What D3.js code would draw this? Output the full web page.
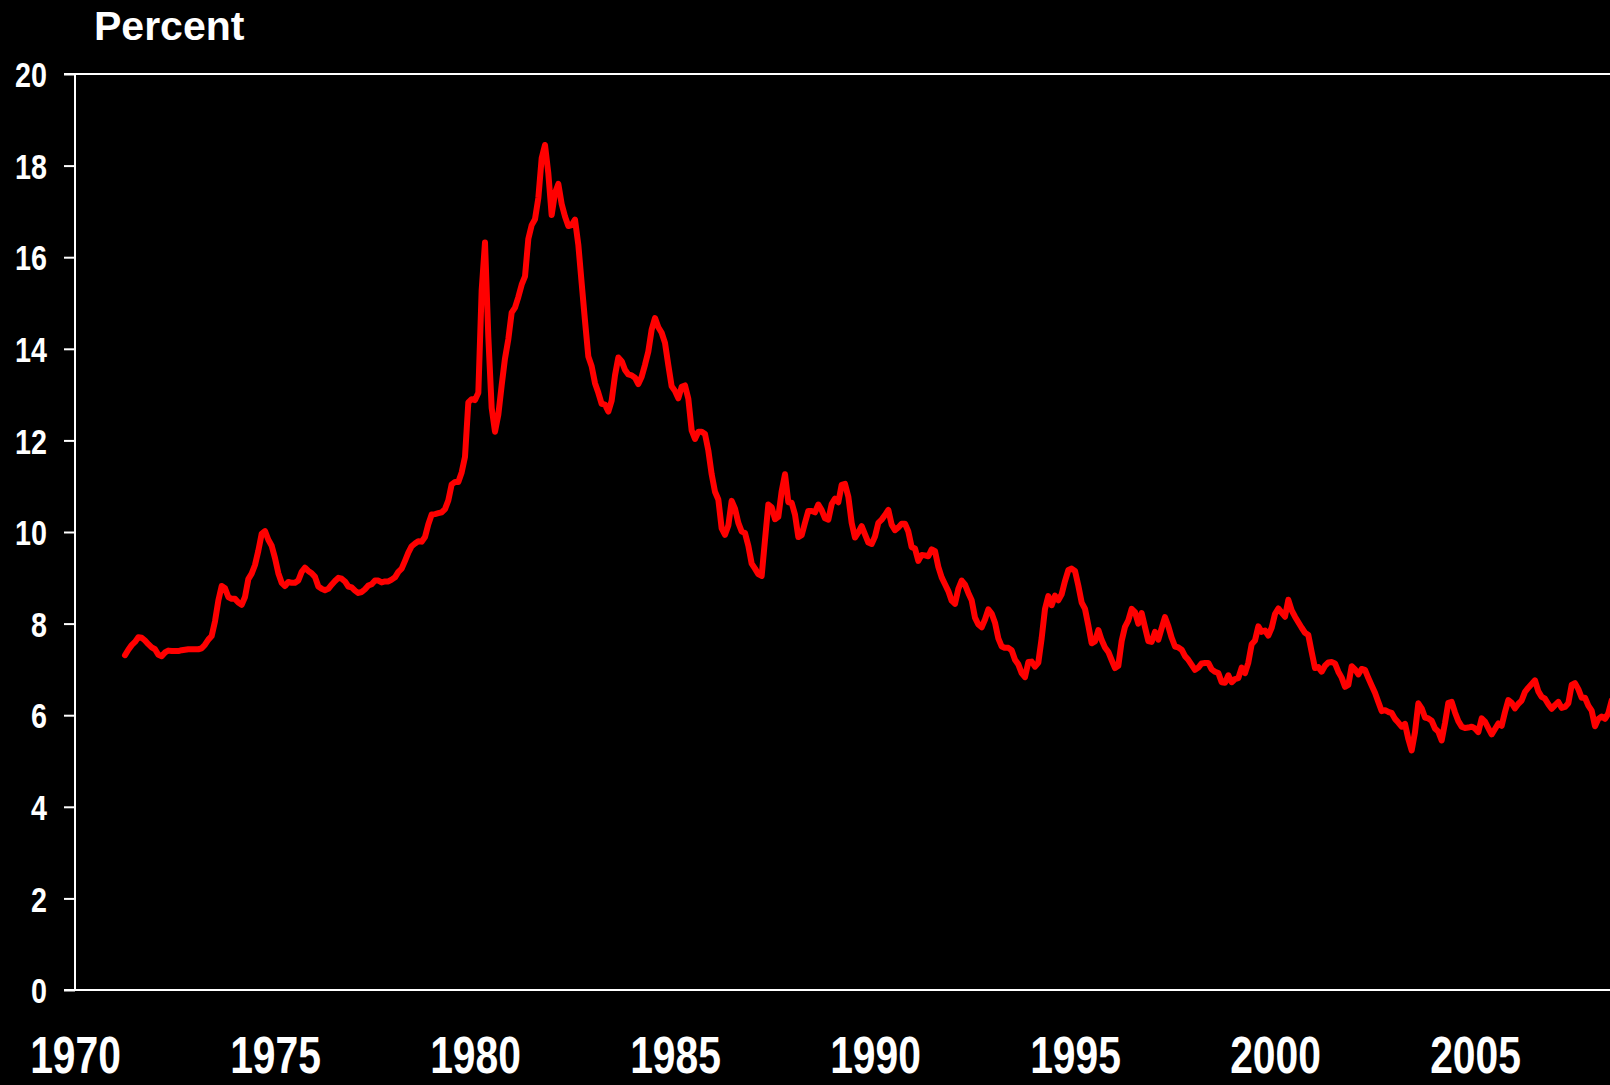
<!DOCTYPE html>
<html>
<head>
<meta charset="utf-8">
<script src="https://cdn.jsdelivr.net/npm/d3@7"></script>
<style>
  html, body { margin: 0; padding: 0; background: #000; }
  svg { display: block; }
</style>
</head>
<body>
<svg id="chart" width="1610" height="1085"></svg>
<script>
// Monthly rates (percent), starting April 1971
const startYear = 1971;
const startMonth = 4;
const rates = [
  // 1971 Apr-Dec
  7.31, 7.43, 7.53, 7.60, 7.70, 7.69, 7.63, 7.55, 7.48,
  // 1972
  7.44, 7.32, 7.29, 7.37, 7.41, 7.40, 7.40, 7.40, 7.42, 7.43, 7.44, 7.44,
  // 1973
  7.44, 7.44, 7.46, 7.54, 7.65, 7.73, 8.05, 8.50, 8.82, 8.77, 8.58, 8.54,
  // 1974
  8.54, 8.46, 8.41, 8.58, 8.97, 9.09, 9.28, 9.59, 9.96, 10.02, 9.83, 9.70,
  // 1975
  9.43, 9.10, 8.89, 8.82, 8.91, 8.89, 8.89, 8.94, 9.13, 9.22, 9.15, 9.10,
  // 1976
  9.02, 8.81, 8.76, 8.73, 8.76, 8.85, 8.93, 9.00, 8.98, 8.92, 8.81, 8.79,
  // 1977
  8.72, 8.67, 8.69, 8.75, 8.83, 8.86, 8.94, 8.94, 8.90, 8.92, 8.92, 8.96,
  // 1978
  9.01, 9.13, 9.20, 9.37, 9.55, 9.69, 9.75, 9.80, 9.79, 9.89, 10.17, 10.38,
  // 1979
  10.39, 10.41, 10.43, 10.50, 10.69, 11.04, 11.09, 11.09, 11.30, 11.64, 12.83, 12.90,
  // 1980
  12.88, 13.04, 15.28, 16.32, 14.26, 12.71, 12.19, 12.56, 13.20, 13.79, 14.21, 14.79,
  // 1981
  14.90, 15.13, 15.40, 15.58, 16.40, 16.70, 16.83, 17.29, 18.16, 18.45, 17.83, 16.92,
  // 1982
  17.40, 17.60, 17.16, 16.89, 16.68, 16.70, 16.82, 16.27, 15.43, 14.61, 13.83, 13.62,
  // 1983
  13.25, 13.04, 12.80, 12.78, 12.63, 12.87, 13.42, 13.81, 13.73, 13.54, 13.44, 13.42,
  // 1984
  13.37, 13.23, 13.39, 13.65, 13.94, 14.42, 14.67, 14.47, 14.35, 14.13, 13.64, 13.18,
  // 1985
  13.08, 12.92, 13.17, 13.20, 12.91, 12.22, 12.03, 12.19, 12.19, 12.14, 11.78, 11.26,
  // 1986
  10.88, 10.71, 10.08, 9.94, 10.14, 10.68, 10.51, 10.20, 10.01, 9.98, 9.70, 9.31,
  // 1987
  9.20, 9.08, 9.04, 9.83, 10.60, 10.54, 10.28, 10.33, 10.89, 11.26, 10.65, 10.64,
  // 1988
  10.38, 9.89, 9.93, 10.20, 10.46, 10.46, 10.43, 10.60, 10.48, 10.30, 10.27, 10.61,
  // 1989
  10.73, 10.65, 11.03, 11.05, 10.77, 10.20, 9.88, 9.99, 10.13, 9.95, 9.77, 9.74,
  // 1990
  9.90, 10.20, 10.27, 10.37, 10.48, 10.16, 10.04, 10.10, 10.18, 10.18, 10.01, 9.67,
  // 1991
  9.64, 9.37, 9.50, 9.49, 9.47, 9.62, 9.58, 9.24, 9.01, 8.86, 8.71, 8.50,
  // 1992
  8.43, 8.76, 8.94, 8.85, 8.67, 8.51, 8.13, 7.98, 7.92, 8.09, 8.31, 8.22,
  // 1993
  8.02, 7.68, 7.50, 7.47, 7.47, 7.42, 7.21, 7.11, 6.92, 6.83, 7.16, 7.17,
  // 1994
  7.06, 7.15, 7.68, 8.32, 8.60, 8.40, 8.61, 8.51, 8.64, 8.93, 9.17, 9.20,
  // 1995
  9.15, 8.83, 8.46, 8.32, 7.96, 7.57, 7.61, 7.86, 7.64, 7.48, 7.38, 7.20,
  // 1996
  7.03, 7.08, 7.62, 7.93, 8.07, 8.32, 8.25, 8.00, 8.23, 7.92, 7.62, 7.60,
  // 1997
  7.82, 7.65, 7.90, 8.14, 7.94, 7.69, 7.50, 7.48, 7.43, 7.29, 7.21, 7.10,
  // 1998
  6.99, 7.04, 7.13, 7.14, 7.14, 7.00, 6.95, 6.92, 6.72, 6.71, 6.87, 6.72,
  // 1999
  6.79, 6.81, 7.04, 6.92, 7.15, 7.55, 7.63, 7.94, 7.82, 7.85, 7.74, 7.91,
  // 2000
  8.21, 8.33, 8.24, 8.15, 8.52, 8.29, 8.15, 8.03, 7.91, 7.80, 7.75, 7.38,
  // 2001
  7.03, 7.05, 6.95, 7.08, 7.15, 7.16, 7.13, 6.95, 6.82, 6.62, 6.66, 7.07,
  // 2002
  7.00, 6.89, 7.01, 6.99, 6.81, 6.65, 6.49, 6.29, 6.09, 6.11, 6.07, 6.05,
  // 2003
  5.92, 5.84, 5.75, 5.81, 5.48, 5.23, 5.63, 6.26, 6.15, 5.95, 5.93, 5.88,
  // 2004
  5.71, 5.64, 5.45, 5.83, 6.27, 6.29, 6.06, 5.87, 5.75, 5.72, 5.73, 5.75,
  // 2005
  5.71, 5.63, 5.93, 5.86, 5.72, 5.58, 5.70, 5.82, 5.77, 6.07, 6.33, 6.27,
  // 2006
  6.15, 6.25, 6.32, 6.51, 6.60, 6.68, 6.76, 6.52, 6.40, 6.36, 6.24, 6.14,
  // 2007
  6.22, 6.29, 6.16, 6.18, 6.26, 6.66, 6.70, 6.57, 6.38, 6.38, 6.21, 6.10,
  // 2008
  5.76, 5.92, 5.97, 5.92, 6.04, 6.32
];
const yTicks = [0, 2, 4, 6, 8, 10, 12, 14, 16, 18, 20];
const xTickYears = [1970, 1975, 1980, 1985, 1990, 1995, 2000, 2005];
const yTitle = "Percent";

const data = rates.map((v, i) => ({
  t: startYear + (startMonth - 1 + i) / 12,
  v: v
}));

const svg = d3.select("#chart");
svg.append("rect").attr("width", 1610).attr("height", 1085).attr("fill", "#000");

const x = d3.scaleLinear().domain([1970, 2010]).range([75, 1675]);
const y = d3.scaleLinear().domain([0, 20]).range([990, 74]);

const sans = "'Liberation Sans', Arial, sans-serif";
const yScaleX = 0.82;
const xScaleX = 0.80;

// Top frame line
svg.append("line")
  .attr("x1", 64).attr("x2", 1610)
  .attr("y1", y(20)).attr("y2", y(20))
  .attr("stroke", "#fff").attr("stroke-width", 2);

// Bottom axis line
svg.append("line")
  .attr("x1", 64).attr("x2", 1610)
  .attr("y1", y(0)).attr("y2", y(0))
  .attr("stroke", "#fff").attr("stroke-width", 2);

// Y axis
const yAxis = d3.axisLeft(y).tickValues(yTicks).tickSize(11).tickPadding(0).tickFormat(d3.format("d"));
const gy = svg.append("g").attr("transform", "translate(75,0)").call(yAxis);
gy.select(".domain").attr("stroke", "#fff").attr("stroke-width", 2).attr("d", `M0,${y(20)}V${y(0)}`);
gy.selectAll(".tick line").attr("stroke", "#fff").attr("stroke-width", 2);
gy.selectAll(".tick text")
  .attr("fill", "#fff")
  .attr("font-family", sans)
  .attr("font-weight", "bold")
  .attr("font-size", 35)
  .attr("x", -28 / yScaleX)
  .attr("dy", "0.36em")
  .attr("transform", `scale(${yScaleX},1)`);

// X axis labels
const xAxis = d3.axisBottom(x).tickValues(xTickYears).tickSize(0).tickPadding(0).tickFormat(d3.format("d"));
const gx = svg.append("g").attr("transform", `translate(0,${y(0)})`).call(xAxis);
gx.select(".domain").remove();
gx.selectAll(".tick text")
  .attr("fill", "#fff")
  .attr("font-family", sans)
  .attr("font-weight", "bold")
  .attr("font-size", 51)
  .attr("dy", 0)
  .attr("y", 83)
  .attr("transform", `scale(${xScaleX},1)`);

// Title
svg.append("text")
  .attr("x", 94).attr("y", 40)
  .attr("fill", "#fff")
  .attr("font-family", sans)
  .attr("font-weight", "bold")
  .attr("font-size", 41)
  .text(yTitle);

// Line
const line = d3.line().x(d => x(d.t)).y(d => y(d.v));
svg.append("path")
  .datum(data)
  .attr("fill", "none")
  .attr("stroke", "#ff0000")
  .attr("stroke-width", 6)
  .attr("stroke-linejoin", "round")
  .attr("stroke-linecap", "round")
  .attr("d", line);
</script>
</body>
</html>
